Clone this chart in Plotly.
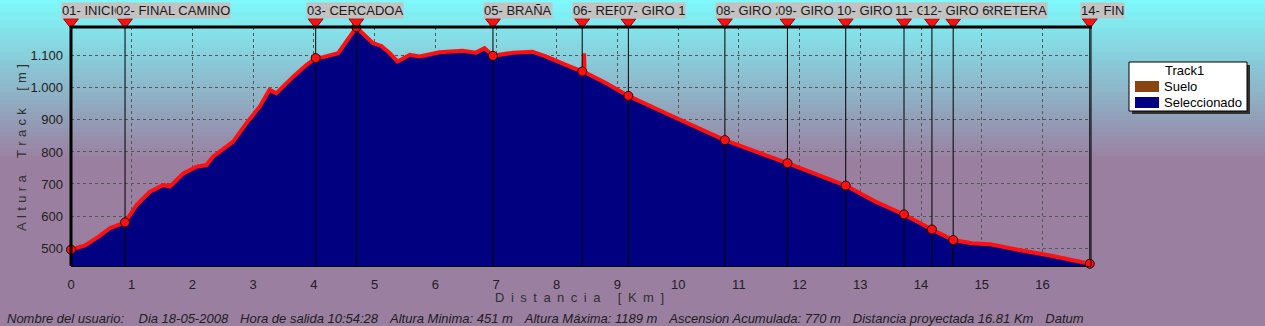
import plotly.graph_objects as go

# ---------------- data ----------------
dist_km = [0.00, 0.23, 0.45, 0.64, 0.89, 1.08, 1.30, 1.52, 1.63, 1.85, 2.07, 2.23, 2.34, 2.67,
           2.89, 3.11, 3.27, 3.38, 3.66, 3.88, 4.03, 4.15, 4.40, 4.53, 4.70, 4.97, 5.11, 5.25,
           5.38, 5.58, 5.74, 6.07, 6.45, 6.67, 6.81, 6.95, 7.28, 7.60, 7.82, 8.21, 8.42, 8.44,
           8.45, 8.46, 8.81, 9.18, 9.85, 10.77, 11.80, 12.76, 13.25, 13.72, 14.18, 14.53, 14.84,
           15.14, 15.61, 16.15, 16.78]
alt_m = [495, 508, 535, 562, 580, 634, 676, 697, 692, 733, 754, 759, 785, 832,
         890, 942, 994, 983, 1035, 1072, 1093, 1096, 1108, 1145, 1189, 1140, 1131, 1108,
         1082, 1103, 1098, 1111, 1116, 1110, 1124, 1100, 1110, 1113, 1098, 1067, 1051, 1050,
         1108, 1049, 1015, 975, 916, 837, 765, 695, 645, 605, 558, 525, 515,
         512, 494, 476, 451]

wp_km = [0.00, 0.89, 4.03, 4.70, 6.95, 8.42, 9.18, 10.77, 11.80, 12.76, 13.72, 14.18, 14.53, 16.78]
wp_alt = [495, 580, 1093, 1189, 1100, 1051, 975, 837, 765, 695, 605, 558, 525, 451]
wp_names = ["01- INICIO", "02- FINAL CAMINO", "03- CERCADOA", "", "05- BRAÑA", "06- REFUGIO",
            "07- GIRO 1", "08- GIRO 2", "09- GIRO 3", "10- GIRO 4", "11- GIRO 5", "12- GIRO 6",
            "13- CARRETERA", "14- FIN"]
label_order = [0, 1, 2, 4, 5, 6, 7, 8, 9, 10, 12, 11, 13]

x_ticks = list(range(0, 17))
y_ticks = [500, 600, 700, 800, 900, 1000, 1100]
y_ticktext = ["500", "600", "700", "800", "900", "1.000", "1.100"]

legend_title = "Track1"
legend_items = ["Suelo", "Seleccionado"]
legend_colors = ["#884411", "#000080"]

footer_parts = ["Nombre del usuario:", "Dia 18-05-2008", "Hora de salida 10:54:28",
                "Altura Minima: 451 m", "Altura Máxima: 1189 m", "Ascension Acumulada: 770 m",
                "Distancia proyectada 16.81 Km", "Datum"]

x_title_words = ["Distancia", "[Km]"]
y_title_words = ["Altura", "Track", "[m]"]

# ---------------- geometry helpers ----------------
W, H = 1265, 326
L, R, T, B = 71, 1091, 27, 266
Y0, Y1 = 444, 1190
X0, X1 = 0, 16.80
TRI_PX = 22  # vertical pixel position of the waypoint flags


def px2x(px):
    return (px - L) / (R - L)


def py2y(py):
    # paper coords: plotting box spans pixel 0 (top) .. B (bottom)
    return (B - py) / B


def spaced(words, letter_gap, word_gap):
    return word_gap.join(letter_gap.join(list(w)) for w in words)


FONT = "Liberation Sans, Arial, sans-serif"

fig = go.Figure()

# profile fill + red line
fig.add_trace(go.Scatter(x=dist_km, y=alt_m, mode="lines", fill="tozeroy",
                         fillcolor="#000080", line=dict(color="#ff1010", width=4),
                         hoverinfo="skip", showlegend=False))

# waypoint vertical lines
vx, vy = [], []
for k in wp_km:
    vx += [k, k, None]
    vy += [Y0, Y1, None]
fig.add_trace(go.Scatter(x=vx, y=vy, mode="lines", line=dict(color="black", width=1),
                         hoverinfo="skip", showlegend=False))

# waypoint circles
fig.add_trace(go.Scatter(x=wp_km, y=wp_alt, mode="markers",
                         marker=dict(color="#ff1010", size=9, line=dict(color="#300000", width=1)),
                         cliponaxis=False, hoverinfo="skip", showlegend=False))

# top flags (triangles) on a thin strip axis above the plot
fig.add_trace(go.Scatter(x=wp_km, y=[TRI_PX] * len(wp_km), mode="markers",
                         xaxis="x2", yaxis="y2",
                         marker=dict(symbol="triangle-down", color="#ff1010", size=13,
                                     line=dict(color="#900000", width=1)),
                         cliponaxis=False, hoverinfo="skip", showlegend=False))

shapes = []
# background gradient
c_top = (126, 250, 252)
c_bot = (154, 127, 160)
g_end = 160
step = 4
for i in range(0, g_end, step):
    t = (i + step / 2) / g_end
    c = tuple(int(round(c_top[j] + (c_bot[j] - c_top[j]) * t)) for j in range(3))
    shapes.append(dict(type="rect", xref="paper", yref="paper", layer="below",
                       x0=px2x(0), x1=px2x(W), y0=py2y(i + step + 0.5), y1=py2y(i),
                       fillcolor="rgb(%d,%d,%d)" % c, line=dict(width=0)))
shapes.append(dict(type="rect", xref="paper", yref="paper", layer="below",
                   x0=px2x(0), x1=px2x(W), y0=py2y(H), y1=py2y(g_end),
                   fillcolor="rgb(%d,%d,%d)" % c_bot, line=dict(width=0)))

# frame
shapes.append(dict(type="line", xref="paper", yref="paper", x0=px2x(L - 1), x1=px2x(R + 1),
                   y0=py2y(T), y1=py2y(T), line=dict(color="black", width=3)))
shapes.append(dict(type="line", xref="paper", yref="paper", x0=0, x1=0,
                   y0=0, y1=py2y(T), line=dict(color="black", width=3)))
shapes.append(dict(type="line", xref="paper", yref="paper", x0=1, x1=1,
                   y0=0, y1=py2y(T), line=dict(color="black", width=1)))

# legend box
shapes.append(dict(type="rect", xref="paper", yref="paper",
                   x0=px2x(1132), x1=px2x(1250), y0=py2y(114), y1=py2y(65),
                   fillcolor="#303030", line=dict(width=0)))
shapes.append(dict(type="rect", xref="paper", yref="paper",
                   x0=px2x(1129), x1=px2x(1247), y0=py2y(111), y1=py2y(62),
                   fillcolor="white", line=dict(color="black", width=1)))
sw_y = [(81, 92), (97, 108)]
for (a, b), col in zip(sw_y, legend_colors):
    shapes.append(dict(type="rect", xref="paper", yref="paper",
                       x0=px2x(1135), x1=px2x(1159), y0=py2y(b), y1=py2y(a),
                       fillcolor=col, line=dict(width=0)))

annotations = []
# waypoint labels
for i in label_order:
    if not wp_names[i]:
        continue
    annotations.append(dict(x=wp_km[i], xref="x", xanchor="left", xshift=-10,
                            y=py2y(10.5), yref="paper", yanchor="middle",
                            text=wp_names[i], showarrow=False, bgcolor="#c2c2c2",
                            borderpad=0, font=dict(family=FONT, size=13, color="#1a1a1a")))

# legend texts
annotations.append(dict(x=px2x(1163), y=py2y(71), xref="paper", yref="paper",
                        xanchor="left", yanchor="middle", text=legend_title, showarrow=False,
                        font=dict(family=FONT, size=13, color="black")))
for txt, yc in zip(legend_items, [87, 103]):
    annotations.append(dict(x=px2x(1162), y=py2y(yc), xref="paper", yref="paper",
                            xanchor="left", yanchor="middle", text=txt, showarrow=False,
                            font=dict(family=FONT, size=13, color="black")))

# axis titles
annotations.append(dict(x=px2x(579), y=py2y(297), xref="paper", yref="paper",
                        xanchor="center", yanchor="middle",
                        text=spaced(x_title_words, "\u2002", "\u2003\u2004"), showarrow=False,
                        font=dict(family=FONT, size=13, color="#303030")))
annotations.append(dict(x=px2x(21), y=py2y(148), xref="paper", yref="paper",
                        xanchor="center", yanchor="middle", textangle=-90,
                        text=spaced(y_title_words, "\u2005\u200a", "\u2003\u2004"),
                        showarrow=False,
                        font=dict(family=FONT, size=13, color="#303030")))

# footer
gaps = ["\u00a0" * 4] + ["\u00a0" * 3 + "\u200a"] * (len(footer_parts) - 2)
footer_text = footer_parts[0]
for g, p in zip(gaps, footer_parts[1:]):
    footer_text += g + p
annotations.append(dict(x=px2x(5), y=py2y(318), xref="paper", yref="paper",
                        xanchor="left", yanchor="middle", text="<i>%s</i>" % footer_text,
                        showarrow=False,
                        font=dict(family=FONT, size=13, color="#202020")))

fig.update_layout(
    width=W, height=H,
    margin=dict(l=L, r=W - R, t=0, b=H - B, pad=0),
    paper_bgcolor="rgb(154,127,160)",
    plot_bgcolor="rgba(0,0,0,0)",
    showlegend=False,
    shapes=shapes,
    annotations=annotations,
    font=dict(family=FONT, size=13, color="#202020"),
    xaxis=dict(range=[X0, X1], tickvals=x_ticks, ticktext=[str(v) for v in x_ticks],
               domain=[0, 1], anchor="y",
               showgrid=True, gridcolor="#555555", griddash="3px,3px", gridwidth=1,
               zeroline=False, showline=True, linecolor="black", linewidth=1,
               ticks="", ticklabelstandoff=6,
               tickfont=dict(family=FONT, size=13, color="#202020")),
    yaxis=dict(range=[Y0, Y1], tickvals=y_ticks, ticktext=y_ticktext,
               domain=[0, py2y(T)], anchor="x",
               showgrid=True, gridcolor="#555555", griddash="3px,3px", gridwidth=1,
               zeroline=False, showline=False, ticks="", ticklabelstandoff=7,
               tickfont=dict(family=FONT, size=13, color="#202020")),
    xaxis2=dict(range=[X0, X1], domain=[0, 1], anchor="y2", visible=False,
                showgrid=False, zeroline=False),
    yaxis2=dict(range=[T + 1, 0], domain=[py2y(T + 1), 1], anchor="x2", visible=False,
                showgrid=False, zeroline=False),
)

fig.write_html("out.html", config={"displayModeBar": False},
               post_script="document.body.style.margin='0';document.body.style.padding='0';")
